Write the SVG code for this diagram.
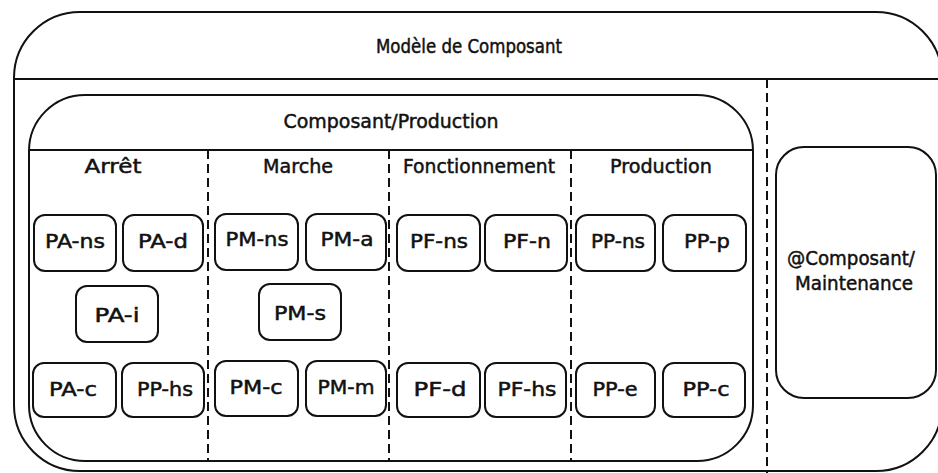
<svg xmlns="http://www.w3.org/2000/svg" width="938" height="473" viewBox="0 0 938 473">
<style>
.frame{fill:none;stroke:#111;stroke-width:2}
.node rect{fill:#fff;stroke:#111;stroke-width:2}
.dash{fill:none;stroke:#111;stroke-width:2;stroke-dasharray:9 5}
text{font-family:"DejaVu Sans","Liberation Sans",sans-serif;font-size:19px;fill:#111;stroke:#111;stroke-width:0.5;text-anchor:middle}
.big{font-size:20px}
</style>
<rect width="938" height="473" fill="#fff"/>
<g id="modele">
<rect class="frame" x="14" y="12" width="928" height="459" rx="66" ry="66"/>
<line class="frame" x1="14" y1="79" x2="938" y2="79"/>
<text class="big" x="469" y="53" textLength="186" lengthAdjust="spacingAndGlyphs">Modèle de Composant</text>
</g>
<g id="composant-production">
<rect class="frame" x="29" y="95" width="724" height="366" rx="56" ry="56"/>
<line class="frame" x1="29" y1="150" x2="753" y2="150"/>
<text class="big" x="391" y="128" textLength="215" lengthAdjust="spacingAndGlyphs">Composant/Production</text>
<text class="big" x="113" y="173" textLength="57" lengthAdjust="spacingAndGlyphs">Arrêt</text>
<text class="big" x="298" y="173" textLength="70" lengthAdjust="spacingAndGlyphs">Marche</text>
<text class="big" x="479" y="173" textLength="152" lengthAdjust="spacingAndGlyphs">Fonctionnement</text>
<text class="big" x="661" y="173" textLength="102" lengthAdjust="spacingAndGlyphs">Production</text>
</g>
<g id="connectors">
<line class="dash" x1="208" y1="150" x2="208" y2="461"/>
<line class="dash" x1="389" y1="150" x2="389" y2="461"/>
<line class="dash" x1="571" y1="150" x2="571" y2="461"/>
<line class="dash" x1="767" y1="79" x2="767" y2="473"/>
</g>
<g id="PA-ns" class="node"><rect x="34" y="215" width="82" height="56" rx="11"/><text x="75" y="248" textLength="60" lengthAdjust="spacingAndGlyphs">PA-ns</text></g>
<g id="PA-d" class="node"><rect x="123" y="215" width="80" height="56" rx="11"/><text x="163" y="248" textLength="50" lengthAdjust="spacingAndGlyphs">PA-d</text></g>
<g id="PM-ns" class="node"><rect x="215" y="214" width="83" height="56" rx="11"/><text x="257" y="246" textLength="63" lengthAdjust="spacingAndGlyphs">PM-ns</text></g>
<g id="PM-a" class="node"><rect x="306" y="214" width="80" height="56" rx="11"/><text x="347" y="246" textLength="53" lengthAdjust="spacingAndGlyphs">PM-a</text></g>
<g id="PF-ns" class="node"><rect x="397" y="215" width="83" height="56" rx="11"/><text x="439" y="248" textLength="58" lengthAdjust="spacingAndGlyphs">PF-ns</text></g>
<g id="PF-n" class="node"><rect x="485" y="215" width="82" height="56" rx="11"/><text x="527" y="248" textLength="48" lengthAdjust="spacingAndGlyphs">PF-n</text></g>
<g id="PP-ns" class="node"><rect x="576" y="215" width="79" height="56" rx="11"/><text x="618" y="248" textLength="54" lengthAdjust="spacingAndGlyphs">PP-ns</text></g>
<g id="PP-p" class="node"><rect x="663" y="215" width="83" height="56" rx="11"/><text x="707" y="248" textLength="46" lengthAdjust="spacingAndGlyphs">PP-p</text></g>
<g id="PA-i" class="node"><rect x="76" y="286" width="82" height="56" rx="11"/><text x="117" y="322" textLength="45" lengthAdjust="spacingAndGlyphs">PA-i</text></g>
<g id="PM-s" class="node"><rect x="259" y="284" width="82" height="56" rx="11"/><text x="300" y="320" textLength="52" lengthAdjust="spacingAndGlyphs">PM-s</text></g>
<g id="PA-c" class="node"><rect x="33" y="363" width="83" height="54" rx="11"/><text x="73" y="396" textLength="48" lengthAdjust="spacingAndGlyphs">PA-c</text></g>
<g id="PP-hs" class="node"><rect x="122" y="363" width="82" height="54" rx="11"/><text x="165" y="396" textLength="56" lengthAdjust="spacingAndGlyphs">PP-hs</text></g>
<g id="PM-c" class="node"><rect x="215" y="361" width="83" height="55" rx="11"/><text x="256" y="394" textLength="53" lengthAdjust="spacingAndGlyphs">PM-c</text></g>
<g id="PM-m" class="node"><rect x="306" y="361" width="80" height="55" rx="11"/><text x="346" y="394" textLength="57" lengthAdjust="spacingAndGlyphs">PM-m</text></g>
<g id="PF-d" class="node"><rect x="397" y="363" width="83" height="54" rx="11"/><text x="440" y="396" textLength="53" lengthAdjust="spacingAndGlyphs">PF-d</text></g>
<g id="PF-hs" class="node"><rect x="485" y="363" width="81" height="54" rx="11"/><text x="527" y="396" textLength="59" lengthAdjust="spacingAndGlyphs">PF-hs</text></g>
<g id="PP-e" class="node"><rect x="576" y="363" width="79" height="54" rx="11"/><text x="615" y="396" textLength="45" lengthAdjust="spacingAndGlyphs">PP-e</text></g>
<g id="PP-c" class="node"><rect x="663" y="363" width="82" height="54" rx="11"/><text x="706" y="396" textLength="47" lengthAdjust="spacingAndGlyphs">PP-c</text></g>
<g id="composant-maintenance" class="node"><rect x="776" y="147" width="160" height="251" rx="28"/><text class="big" x="851" y="265" textLength="128" lengthAdjust="spacingAndGlyphs">@Composant/</text><text class="big" x="854" y="290" textLength="118" lengthAdjust="spacingAndGlyphs">Maintenance</text></g>
</svg>
